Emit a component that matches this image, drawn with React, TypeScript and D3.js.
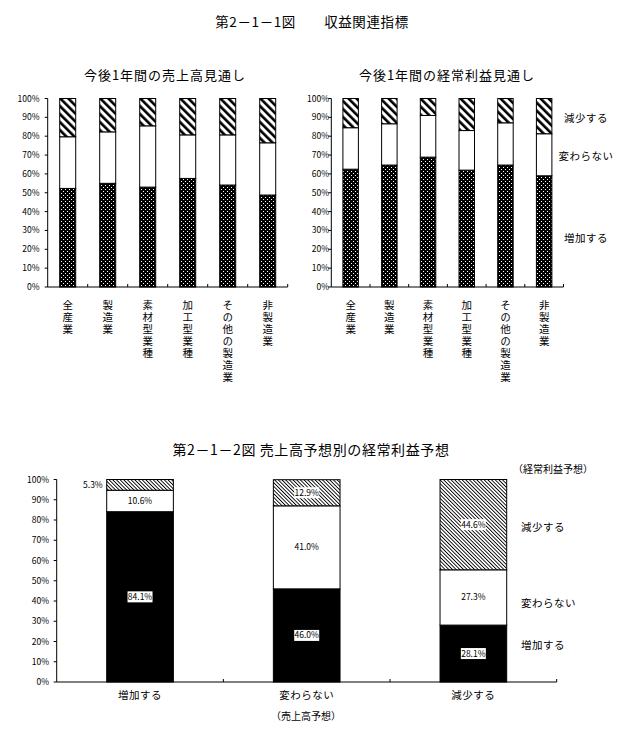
import React from "react";
import * as d3 from "d3";

const topCategories = ["全産業", "製造業", "素材型業種", "加工型業種", "その他の製造業", "非製造業"];
const salesIncrease = [52.3, 55.0, 53.0, 57.6, 54.1, 48.8];
const salesUnchanged = [27.4, 27.3, 32.5, 23.1, 26.6, 27.7];
const salesDecrease = [20.3, 17.7, 14.5, 19.3, 19.3, 23.5];
const profitIncrease = [62.5, 64.7, 68.9, 62.0, 64.7, 59.0];
const profitUnchanged = [22.0, 21.9, 22.1, 21.0, 22.4, 22.3];
const profitDecrease = [15.5, 13.4, 9.0, 17.0, 12.9, 18.7];

const bottomCategories = ["増加する", "変わらない", "減少する"];
const bottomIncrease = [84.1, 46.0, 28.1];
const bottomUnchanged = [10.6, 41.0, 27.3];
const bottomDecrease = [5.3, 12.9, 44.6];

const seriesKeys = ["increase", "unchanged", "decrease"];
const legendLabels = ["増加する", "変わらない", "減少する"];
const yTicks = [0, 10, 20, 30, 40, 50, 60, 70, 80, 90, 100];

const mainTitle = "第2－1－1図　　収益関連指標";
const topTitles = ["今後1年間の売上高見通し", "今後1年間の経常利益見通し"];
const bottomTitle = "第2－1－2図 売上高予想別の経常利益予想";
const bottomLegendTitle = "（経常利益予想）";
const bottomAxisTitle = "（売上高予想）";

const FONT = "'Noto Sans CJK JP', 'Noto Sans', sans-serif";

type Row = { cat: string; increase: number; unchanged: number; decrease: number };

function makeRows(cats: string[], inc: number[], unc: number[], dec: number[]): Row[] {
  return cats.map((c, i) => ({ cat: c, increase: inc[i], unchanged: unc[i], decrease: dec[i] }));
}

function TopChart(props: {
  x0: number; x1: number; labelRight: number; rows: Row[]; title: string; titleX: number;
}) {
  const { x0, x1, labelRight, rows, title, titleX } = props;
  const x = d3.scaleBand<string>().domain(rows.map((r) => r.cat)).range([x0, x1]).paddingInner(0.6).paddingOuter(0.3);
  const y = d3.scaleLinear().domain([0, 100]).range([287, 98.5]);
  const series = d3.stack<Row>().keys(seriesKeys)(rows);
  const fills: Record<string, string> = { increase: "url(#dots)", unchanged: "#fff", decrease: "url(#stripes)" };
  const step = x.step();
  return (
    <g>
      <text x={titleX} y={80} fontSize={13} letterSpacing={1} textAnchor="middle" fontFamily={FONT}>{title}</text>
      {series.map((s) => (
        <g key={s.key}>
          {s.map((d, i) => (
            <rect key={i} x={x(rows[i].cat)} y={y(d[1])} width={x.bandwidth()} height={y(d[0]) - y(d[1])}
              fill={fills[s.key]} stroke="#000" strokeWidth={1} />
          ))}
        </g>
      ))}
      <line x1={x0} x2={x0} y1={y(100)} y2={y(0)} stroke="#000" />
      <line x1={x0} x2={x1} y1={y(0)} y2={y(0)} stroke="#000" />
      {yTicks.map((t) => (
        <g key={t}>
          <line x1={x0 - 3} x2={x0} y1={y(t)} y2={y(t)} stroke="#000" />
          <text x={labelRight} y={y(t) + 3} fontSize={8.5} textAnchor="end" fontFamily={FONT}>{t}%</text>
        </g>
      ))}
      {rows.map((r, i) => (
        <line key={i} x1={x0 + step * (i + 1)} x2={x0 + step * (i + 1)} y1={y(0) - 3} y2={y(0)} stroke="#000" />
      ))}
      {rows.map((r) => {
        const cx = (x(r.cat) as number) + x.bandwidth() / 2;
        return (
          <text key={r.cat} x={cx} y={300} fontSize={10.5} letterSpacing={1.5} fontFamily={FONT}
            style={{ writingMode: "vertical-rl" }}>{r.cat}</text>
        );
      })}
    </g>
  );
}

function BottomChart() {
  const rows = makeRows(bottomCategories, bottomIncrease, bottomUnchanged, bottomDecrease);
  const x0 = 56.7, x1 = 556.7;
  const x = d3.scaleBand<string>().domain(bottomCategories).range([x0, x1]).paddingInner(0.6).paddingOuter(0.3);
  const y = d3.scaleLinear().domain([0, 100]).range([682, 479.5]);
  const series = d3.stack<Row>().keys(seriesKeys)(rows);
  const fills: Record<string, string> = { increase: "#000", unchanged: "#fff", decrease: "url(#hatch)" };
  const fmt = d3.format(".1f");
  const step = x.step();
  const legendY: Record<string, number> = { decrease: 531, unchanged: 607, increase: 649 };
  return (
    <g>
      <text x={311} y={455} fontSize={14} letterSpacing={0.6} textAnchor="middle" fontFamily={FONT}>{bottomTitle}</text>
      {series.map((s) => (
        <g key={s.key}>
          {s.map((d, i) => (
            <rect key={i} x={x(rows[i].cat)} y={y(d[1])} width={x.bandwidth()} height={y(d[0]) - y(d[1])}
              fill={fills[s.key]} stroke="#000" strokeWidth={1} />
          ))}
        </g>
      ))}
      {series.map((s) => (
        <g key={"l" + s.key}>
          {s.map((d, i) => {
            const v = d[1] - d[0];
            const bx = x(rows[i].cat) as number;
            const cy = (y(d[0]) + y(d[1])) / 2;
            const label = fmt(v) + "%";
            if (v < 8) {
              return (
                <text key={i} x={bx - 4} y={cy + 3} fontSize={8.5} textAnchor="end" fontFamily={FONT}>{label}</text>
              );
            }
            const cx = bx + x.bandwidth() / 2;
            return (
              <g key={i}>
                {s.key !== "unchanged" && <rect x={cx - 12.5} y={cy - 5.5} width={25} height={11} fill="#fff" />}
                <text x={cx} y={cy + 3} fontSize={8.5} textAnchor="middle" fontFamily={FONT}>{label}</text>
              </g>
            );
          })}
        </g>
      ))}
      <line x1={x0} x2={x0} y1={y(100)} y2={y(0)} stroke="#000" />
      <line x1={x0} x2={x1} y1={y(0)} y2={y(0)} stroke="#000" />
      {yTicks.map((t) => (
        <g key={t}>
          <line x1={x0 - 3} x2={x0} y1={y(t)} y2={y(t)} stroke="#000" />
          <text x={49} y={y(t) + 3} fontSize={8.5} textAnchor="end" fontFamily={FONT}>{t}%</text>
        </g>
      ))}
      {bottomCategories.map((c, i) => (
        <line key={i} x1={x0 + step * (i + 1)} x2={x0 + step * (i + 1)} y1={y(0) - 3} y2={y(0)} stroke="#000" />
      ))}
      {bottomCategories.map((c) => (
        <text key={c} x={(x(c) as number) + x.bandwidth() / 2} y={699} fontSize={10.5} letterSpacing={0.5} textAnchor="middle" fontFamily={FONT}>{c}</text>
      ))}
      <text x={306} y={720} fontSize={10} textAnchor="middle" fontFamily={FONT}>{bottomAxisTitle}</text>
      <text x={553} y={473} fontSize={10} textAnchor="middle" fontFamily={FONT}>{bottomLegendTitle}</text>
      {seriesKeys.map((k, i) => (
        <text key={k} x={521} y={legendY[k]} fontSize={10.5} letterSpacing={0.5} fontFamily={FONT}>{legendLabels[i]}</text>
      ))}
    </g>
  );
}

export default function App() {
  const salesRows = makeRows(topCategories, salesIncrease, salesUnchanged, salesDecrease);
  const profitRows = makeRows(topCategories, profitIncrease, profitUnchanged, profitDecrease);
  const topLegendY: Record<string, number> = { increase: 242, unchanged: 160, decrease: 122 };
  return (
    <svg width={620} height={735} style={{ position: "absolute", left: 0, top: 0, background: "#fff" }}>
      <defs>
        <pattern id="dots" width={4} height={4} patternUnits="userSpaceOnUse">
          <rect width={4} height={4} fill="#000" />
          <rect x={1} y={1} width={1} height={1} fill="#fff" />
          <rect x={3} y={3} width={1} height={1} fill="#fff" />
        </pattern>
        <pattern id="stripes" width={5.66} height={5.66} patternUnits="userSpaceOnUse" patternTransform="rotate(-45)">
          <rect width={5.66} height={5.66} fill="#fff" />
          <rect width={2.6} height={5.66} fill="#000" />
        </pattern>
        <pattern id="hatch" width={2.6} height={2.6} patternUnits="userSpaceOnUse" patternTransform="rotate(-45)">
          <rect width={2.6} height={2.6} fill="#fff" />
          <rect width={0.9} height={2.6} fill="#000" />
        </pattern>
      </defs>
      <rect width={620} height={735} fill="#fff" />
      <text x={312} y={27} fontSize={13.5} letterSpacing={0.6} textAnchor="middle" fontFamily={FONT}>{mainTitle}</text>
      <TopChart x0={47.7} x1={287.7} labelRight={39.5} rows={salesRows} title={topTitles[0]} titleX={165} />
      <TopChart x0={331.3} x1={563.5} labelRight={329} rows={profitRows} title={topTitles[1]} titleX={447} />
      {seriesKeys.map((k, i) => (
        <text key={k} x={586} y={topLegendY[k]} fontSize={10.5} letterSpacing={0.5} textAnchor="middle" fontFamily={FONT}>{legendLabels[i]}</text>
      ))}
      <BottomChart />
    </svg>
  );
}
